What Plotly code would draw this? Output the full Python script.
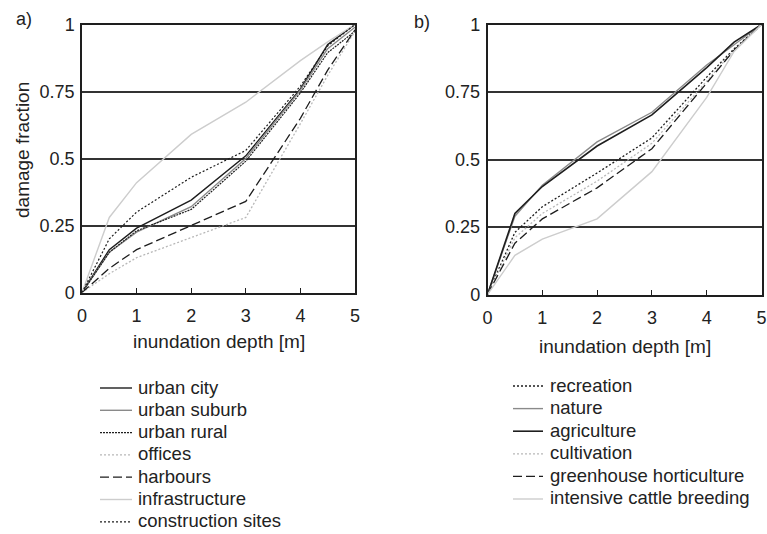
import plotly.graph_objects as go

W, H = 767, 534

depth = [0, 0.5, 1, 2, 3, 4, 4.5, 5]
tick_vals_x = [0, 1, 2, 3, 4, 5]
tick_vals_y = [0, 0.25, 0.5, 0.75, 1]
tick_text_y = ["0", "0.25", "0.5", "0.75", "1"]

# panel a
names_a = ["urban city", "urban suburb", "urban rural", "offices", "harbours",
           "infrastructure", "construction sites"]
urban_city = [0, 0.16, 0.24, 0.345, 0.51, 0.76, 0.925, 1.0]
urban_suburb = [0, 0.15, 0.225, 0.32, 0.50, 0.755, 0.91, 0.99]
urban_rural = [0, 0.15, 0.23, 0.31, 0.49, 0.745, 0.895, 0.975]
offices = [0, 0.07, 0.13, 0.205, 0.28, 0.63, 0.81, 0.975]
harbours = [0, 0.09, 0.16, 0.25, 0.34, 0.65, 0.83, 0.98]
infrastructure = [0, 0.28, 0.41, 0.59, 0.71, 0.865, 0.935, 1.0]
construction_sites = [0, 0.20, 0.30, 0.43, 0.53, 0.77, 0.92, 1.0]
values_a = [urban_city, urban_suburb, urban_rural, offices, harbours,
            infrastructure, construction_sites]

# panel b
names_b = ["recreation", "nature", "agriculture", "cultivation",
           "greenhouse horticulture", "intensive cattle breeding"]
recreation = [0, 0.23, 0.325, 0.45, 0.58, 0.805, 0.91, 1.0]
nature = [0, 0.29, 0.405, 0.565, 0.675, 0.85, 0.925, 1.0]
agriculture = [0, 0.30, 0.40, 0.55, 0.665, 0.84, 0.935, 1.0]
cultivation = [0, 0.21, 0.30, 0.42, 0.56, 0.79, 0.905, 1.0]
greenhouse = [0, 0.19, 0.28, 0.395, 0.54, 0.785, 0.905, 1.0]
cattle = [0, 0.145, 0.205, 0.28, 0.455, 0.73, 0.90, 1.0]
values_b = [recreation, nature, agriculture, cultivation, greenhouse, cattle]

BLACK = "#1e1e1e"
MID = "#8a8a8a"
LIGHT = "#cdcdcd"
LDOT = "#b8b8b8"
DOT = "2px,2px"
DASH = "9px,4px"

styles_a = [
    dict(color=BLACK, width=1.4, dash="solid"),
    dict(color=MID, width=1.4, dash="solid"),
    dict(color=BLACK, width=1.2, dash="2px,1px"),
    dict(color=LDOT, width=1.3, dash=DOT),
    dict(color=BLACK, width=1.3, dash=DASH),
    dict(color=LIGHT, width=1.4, dash="solid"),
    dict(color=BLACK, width=1.2, dash=DOT),
]
styles_b = [
    dict(color=BLACK, width=1.3, dash=DOT),
    dict(color=MID, width=1.4, dash="solid"),
    dict(color=BLACK, width=1.6, dash="solid"),
    dict(color=LDOT, width=1.3, dash=DOT),
    dict(color=BLACK, width=1.3, dash=DASH),
    dict(color=LIGHT, width=1.4, dash="solid"),
]

FONT = "Liberation Sans, Arial, sans-serif"

fig = go.Figure()
for name, vals, st in zip(names_a, values_a, styles_a):
    fig.add_trace(go.Scatter(x=depth, y=vals, mode="lines", name=name,
                             line=st, xaxis="x", yaxis="y", showlegend=False))
for name, vals, st in zip(names_b, values_b, styles_b):
    fig.add_trace(go.Scatter(x=depth, y=vals, mode="lines", name=name,
                             line=st, xaxis="x2", yaxis="y2", showlegend=False))


def px(x):
    return x / W


def py(y):
    return 1 - y / H


axis_common_x = dict(range=[0, 5], tickvals=tick_vals_x, ticks="inside", ticklen=5,
                     tickwidth=1.2, tickcolor=BLACK, showgrid=False, zeroline=False,
                     showline=True, mirror=True, linecolor=BLACK, linewidth=1.5,
                     tickfont=dict(size=18, color="#222", family=FONT),
                     automargin=False, ticklabelstandoff=6,
                     ticklabeloverflow="allow")
axis_common_y = dict(range=[0, 1], tickvals=tick_vals_y, ticktext=tick_text_y,
                     ticks="", showgrid=True, gridcolor="#333", gridwidth=1.5,
                     zeroline=False, showline=True, mirror=True, linecolor=BLACK,
                     linewidth=1.5, tickfont=dict(size=18, color="#222", family=FONT),
                     automargin=False, ticklabelstandoff=2)

fig.update_layout(
    width=W, height=H, margin=dict(l=0, r=0, t=0, b=0),
    paper_bgcolor="white", plot_bgcolor="white",
    font=dict(family=FONT, size=18, color="#222"),
    xaxis=dict(domain=[px(82), px(355)], anchor="y", **axis_common_x),
    yaxis=dict(domain=[py(292.5), py(24.5)], anchor="x", **axis_common_y),
    xaxis2=dict(domain=[px(487.5), px(761.5)], anchor="y2", **axis_common_x),
    yaxis2=dict(domain=[py(294.5), py(24.5)], anchor="x2", **axis_common_y),
)

ann = []
# panel labels
ann.append(dict(text="a)", x=px(14), y=py(19), xanchor="left", yanchor="middle", size=18))
ann.append(dict(text="b)", x=px(412), y=py(22), xanchor="left", yanchor="middle", size=18))
# axis titles
ann.append(dict(text="damage fraction", x=px(22), y=py(150), textangle=-90,
                xanchor="center", yanchor="middle", size=19))
ann.append(dict(text="inundation depth [m]", x=px(218.5), y=py(341),
                xanchor="center", yanchor="middle", size=19))
ann.append(dict(text="inundation depth [m]", x=px(625), y=py(346),
                xanchor="center", yanchor="middle", size=19))

shapes = []
# legend a
for i, (name, st) in enumerate(zip(names_a, styles_a)):
    yy = 387 + 22.3 * i
    shapes.append(dict(type="line", xref="paper", yref="paper", x0=px(100), x1=px(132),
                       y0=py(yy + 1), y1=py(yy + 1), line=st))
    ann.append(dict(text=name, x=px(136), y=py(yy), xanchor="left", yanchor="middle",
                    size=18.5))
# legend b
for i, (name, st) in enumerate(zip(names_b, styles_b)):
    yy = 385 + 22.6 * i
    shapes.append(dict(type="line", xref="paper", yref="paper", x0=px(513), x1=px(543),
                       y0=py(yy + 1), y1=py(yy + 1), line=st))
    ann.append(dict(text=name, x=px(548), y=py(yy), xanchor="left", yanchor="middle",
                    size=18.5))

for a in ann:
    s = a.pop("size")
    a.update(xref="paper", yref="paper", showarrow=False,
             font=dict(size=s, family=FONT, color="#222"))

fig.update_layout(annotations=ann, shapes=shapes)
fig.write_html("out.html")
